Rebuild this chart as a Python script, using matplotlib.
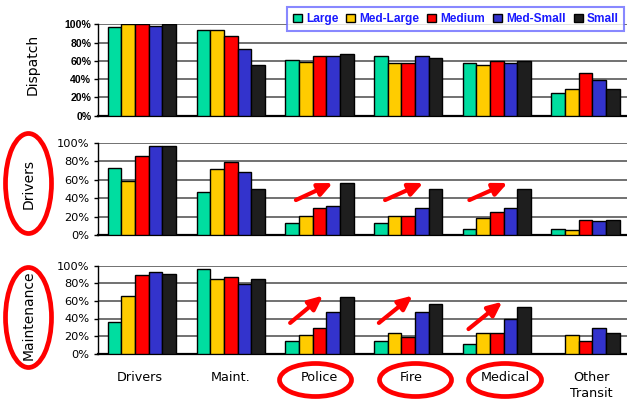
import numpy as np
import matplotlib
matplotlib.use("Agg")
import matplotlib.pyplot as plt
from matplotlib.patches import Patch, Ellipse

# ---------------- data ----------------
categories = ['Drivers', 'Maint.', 'Police', 'Fire', 'Medical', 'Other\nTransit']
sizes = ['Large', 'Med-Large', 'Medium', 'Med-Small', 'Small']
size_colors = ['#00DDA0', '#FFCC00', '#FF0000', '#3333CC', '#1E1E1E']
panel_titles = ['Dispatch', 'Drivers', 'Maintenance']
yticks = [0, 20, 40, 60, 80, 100]
ytick_labels = ['0%', '20%', '40%', '60%', '80%', '100%']

dispatch_large = [97, 94, 61, 65, 58, 25]
dispatch_medlarge = [100, 94, 59, 58, 55, 29]
dispatch_medium = [100, 87, 65, 58, 60, 47]
dispatch_medsmall = [98, 73, 65, 65, 58, 39]
dispatch_small = [100, 55, 67, 63, 60, 29]

drivers_large = [73, 47, 13, 13, 7, 7]
drivers_medlarge = [59, 72, 21, 21, 18, 5]
drivers_medium = [86, 79, 29, 21, 25, 16]
drivers_medsmall = [97, 68, 32, 29, 29, 15]
drivers_small = [97, 50, 57, 50, 50, 16]

maint_large = [36, 96, 14, 14, 11, np.nan]
maint_medlarge = [66, 85, 21, 23, 23, 21]
maint_medium = [90, 87, 29, 19, 23, 15]
maint_medsmall = [93, 79, 47, 47, 40, 29]
maint_small = [91, 85, 65, 56, 53, 24]

panels = [
    [dispatch_large, dispatch_medlarge, dispatch_medium, dispatch_medsmall, dispatch_small],
    [drivers_large, drivers_medlarge, drivers_medium, drivers_medsmall, drivers_small],
    [maint_large, maint_medlarge, maint_medium, maint_medsmall, maint_small],
]

# annotation arrows: (category index, dx start, y start, dx end, y end) per panel
arrows_drivers = [(2, -0.265, 38, 0.15, 56.5), (3, -0.26, 38, 0.17, 56.5), (4, -0.31, 38, 0.12, 56.5)]
arrows_maint = [(2, -0.33, 35, 0.04, 66), (3, -0.33, 35, 0.05, 66), (4, -0.32, 28, 0.06, 59)]

# ---------------- layout ----------------
W, H = 627, 403
fig = plt.figure(figsize=(W / 100, H / 100), dpi=100)

left_px, right_px = 97.6, 630.0
rects_px = [(24.3, 115.7), (143.0, 235.0), (265.7, 353.7)]
ylabel_pos = [(32.5, 0.56), (29.0, 0.554), (29.0, 0.434)]
label_offsets = [-0.02, 0.0, 0.0, 0.03, 0.095, 0.06]

bar_w = 0.154
x = np.arange(len(categories))
axes = []
for p, (top, bot) in enumerate(rects_px):
    ax = fig.add_axes([left_px / W, 1 - bot / H, (right_px - left_px) / W, (bot - top) / H])
    axes.append(ax)
    for j, (vals, col) in enumerate(zip(panels[p], size_colors)):
        ax.bar(x + (j - 2) * bar_w, vals, width=bar_w, color=col,
               edgecolor='black', linewidth=1.0, zorder=3)
    ax.set_xlim(-0.5, len(categories) - 0.5)
    ax.set_ylim(0, 100)
    ax.set_yticks(yticks)
    ax.yaxis.grid(True, color='#4a4a4a', linewidth=1.1, zorder=0)
    ax.set_axisbelow(True)
    for s in ['top', 'right']:
        ax.spines[s].set_visible(False)
    ax.spines['left'].set_linewidth(1.0)
    ax.spines['bottom'].set_linewidth(1.6)
    ax.tick_params(axis='y', direction='out', length=3, width=1)
    ax.tick_params(axis='x', length=0)
    if p == 0:
        ax.set_yticklabels(ytick_labels, fontfamily='Liberation Sans',
                           fontweight='bold', fontsize=7.6)
        ax.tick_params(axis='y', pad=1.5)
    else:
        ax.set_yticklabels(ytick_labels, fontfamily='DejaVu Sans', fontsize=8.2)
        ax.tick_params(axis='y', pad=3.0)
    if p == 2:
        ax.set_xticks(x + np.array(label_offsets))
        ax.set_xticklabels(categories, fontfamily='DejaVu Sans', fontsize=9.2,
                           linespacing=1.3)
        ax.tick_params(axis='x', pad=12.5)
    else:
        ax.set_xticks(x)
        ax.set_xticklabels([])
    ax.set_ylabel(panel_titles[p], fontfamily='DejaVu Sans', fontsize=10,
                  ha='center', va='center')
    lx, ly = ylabel_pos[p]
    ax.yaxis.set_label_coords((lx - left_px) / (right_px - left_px), ly)

# arrows
for ax, arrs in [(axes[1], arrows_drivers), (axes[2], arrows_maint)]:
    for (ci, dx0, y0, dx1, y1) in arrs:
        ax.annotate('', xy=(ci + dx1, y1), xytext=(ci + dx0, y0),
                    arrowprops=dict(arrowstyle='-|>,head_length=0.7,head_width=0.32',
                                    color='#FF0000', lw=3, shrinkA=0, shrinkB=0,
                                    mutation_scale=12), zorder=5)

# legend
handles = [Patch(facecolor=c, edgecolor='black', linewidth=1.0) for c in size_colors]
leg = fig.legend(handles, sizes, loc='upper left',
                 bbox_to_anchor=(287 / W, 1 - 7.3 / H), bbox_transform=fig.transFigure,
                 ncol=5, frameon=True, fancybox=False, borderaxespad=0,
                 prop={'family': 'Liberation Sans', 'weight': 'bold', 'size': 8.6},
                 labelcolor='#1a1aff', handlelength=0.75, handleheight=0.75,
                 handletextpad=0.33, columnspacing=0.68, borderpad=0.5)
leg.get_frame().set_edgecolor('#6a6aff')
leg.get_frame().set_linewidth(1.5)
leg.get_frame().set_facecolor('white')
leg.set_zorder(10)

# red ellipses (annotations, figure pixel coordinates)
ellipses_px = [(28.5, 183.5, 46, 100), (28.5, 317.5, 46, 100),
               (315.5, 380, 72, 33), (415.5, 380, 72, 33), (505, 380, 73, 33)]
for cx, cy, ew, eh in ellipses_px:
    fig.add_artist(Ellipse((cx / W, 1 - cy / H), ew / W, eh / H,
                           transform=fig.transFigure, fill=False,
                           edgecolor='#FF0000', linewidth=3.4))

fig.savefig('out.png', dpi=100)
